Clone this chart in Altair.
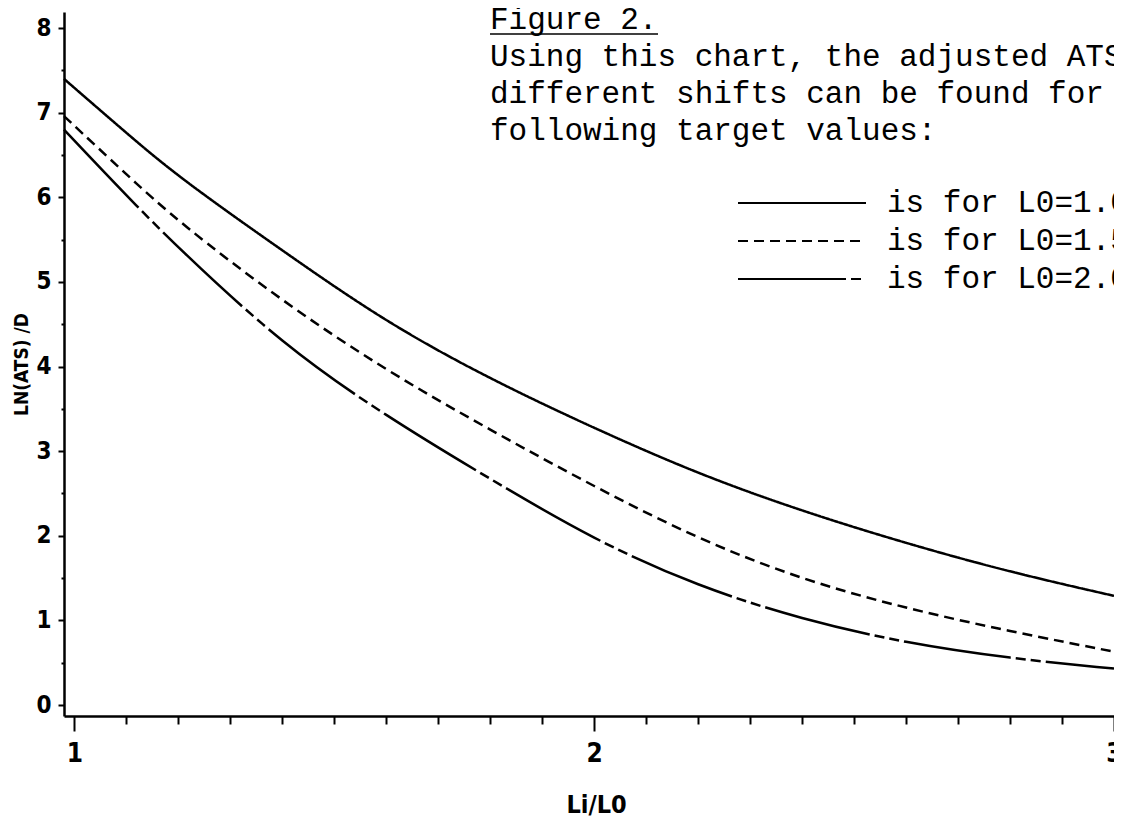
import altair as alt
import pandas as pd

# ---- data ----
x_vals = [0.98, 1.1, 1.2, 1.4, 1.6, 1.8, 2.0, 2.2, 2.4, 2.6, 2.8, 3.0]
l0_10 = [7.40, 6.76, 6.24, 5.37, 4.52, 3.85, 3.27, 2.73, 2.29, 1.91, 1.57, 1.29]
l0_15 = [6.96, 6.27, 5.71, 4.77, 3.95, 3.25, 2.58, 1.96, 1.48, 1.14, 0.87, 0.63]
l0_20 = [6.80, 6.02, 5.40, 4.26, 3.41, 2.67, 1.95, 1.40, 1.01, 0.73, 0.55, 0.43]
series_names = ["L0=1.0", "L0=1.5", "L0=2.0"]

x_ticks = [round(1 + 0.1 * i, 1) for i in range(21)]
y_ticks = [0.5 * i for i in range(17)]

note_title = "Figure 2."
note_lines = [
    "Using this chart, the adjusted ATS",
    "different shifts can be found for",
    "following target values:",
]

rows = []
for name, vals in zip(series_names, [l0_10, l0_15, l0_20]):
    for xv, yv in zip(x_vals, vals):
        rows.append({"x": xv, "value": yv, "series": name})
df = pd.DataFrame(rows)

AX_FONT = "DejaVu Sans Condensed, Liberation Sans Narrow, sans-serif"
MONO = "Liberation Mono, Courier New, monospace"
MAJOR = "abs(datum.value - round(datum.value)) < 0.001"

lines = alt.Chart(df).mark_line(color="black", strokeWidth=2.5, interpolate="basis").encode(
    x=alt.X(
        "x:Q",
        scale=alt.Scale(domain=[0.98, 3.0], nice=False, zero=False),
        axis=alt.Axis(
            values=x_ticks, title="Li/L0",
            labelExpr=f"{MAJOR} ? toString(round(datum.value)) : ''",
            tickSize=alt.ExprRef(expr=f"{MAJOR} ? 15 : 8"),
            labelPadding=9, labelFontSize=26, labelFlush=False, labelOverlap=False,
            titlePadding=26, titleFontSize=25, titleX=532, grid=False,
        ),
    ),
    y=alt.Y(
        "value:Q",
        scale=alt.Scale(domain=[-0.13, 8.19], nice=False, zero=False),
        axis=alt.Axis(
            values=y_ticks, title="LN(ATS) /D",
            labelExpr=f"{MAJOR} ? toString(round(datum.value)) : ''",
            tickSize=alt.ExprRef(expr=f"{MAJOR} ? 6 : 3"),
            labelPadding=7, labelFontSize=24, labelOverlap=False,
            titlePadding=4, titleFontSize=19, grid=False,
        ),
    ),
    strokeDash=alt.StrokeDash(
        "series:N",
        scale=alt.Scale(domain=series_names, range=[[1, 0], [10, 6], [108, 5, 10, 5, 10, 5]]),
        legend=alt.Legend(
            title=None, orient="none", legendX=673, legendY=176,
            symbolType="stroke", symbolSize=16384, clipHeight=30, rowPadding=7,
            labelOffset=20, labelFont=MONO, labelFontSize=31, labelColor="black",
            labelLimit=600, symbolStrokeWidth=2, symbolStrokeColor="black",
            labelExpr="'is for ' + datum.label", padding=0,
        ),
    ),
)

TX = 426
layers = [lines]
layers.append(
    alt.Chart(pd.DataFrame({"t": [note_title]})).mark_text(
        align="left", baseline="alphabetic", font=MONO, fontSize=31, color="black"
    ).encode(text="t:N", x=alt.value(TX), y=alt.value(17))
)
layers.append(
    alt.Chart(pd.DataFrame({"a": [0]})).mark_rule(color="black", strokeWidth=1.5).encode(
        x=alt.value(TX), x2=alt.value(TX + 168), y=alt.value(22)
    )
)
for i, t in enumerate(note_lines):
    layers.append(
        alt.Chart(pd.DataFrame({"t": [t]})).mark_text(
            align="left", baseline="alphabetic", font=MONO, fontSize=31, color="black"
        ).encode(text="t:N", x=alt.value(TX), y=alt.value(54 + 37 * i))
    )

chart = alt.layer(*layers).properties(
    width=1050,
    height=704,
    autosize=alt.AutoSizeParams(type="none"),
    padding={"left": 56, "top": 4, "right": 0, "bottom": 104},
).configure_view(strokeWidth=0).configure_axis(
    domainColor="black", domainWidth=2.5, tickColor="black", tickWidth=2,
    labelColor="black", titleColor="black", labelFont=AX_FONT, titleFont=AX_FONT,
    labelFontWeight="bold", titleFontWeight="bold",
)

chart.save("out.html", embed_options={"renderer": "svg", "actions": False})
